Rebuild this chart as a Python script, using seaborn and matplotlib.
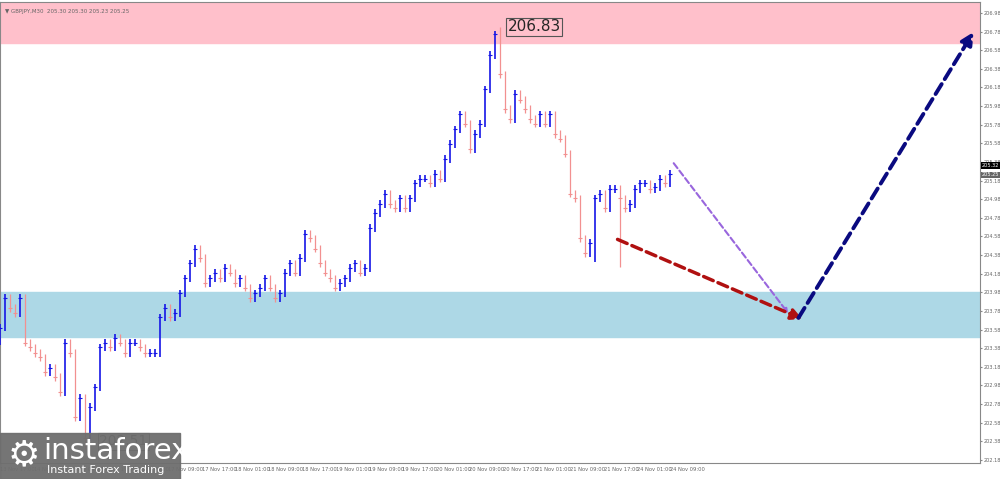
import numpy as np
import pandas as pd
import matplotlib
matplotlib.use("Agg")
import matplotlib.pyplot as plt
import seaborn as sns

closes = [203.60,203.92,203.81,203.76,203.92,203.44,203.39,203.33,203.28,203.12,203.17,203.07,202.91,203.44,203.33,202.64,
202.85,202.42,202.75,202.96,203.39,203.44,203.39,203.49,203.44,203.33,203.44,203.44,203.39,203.33,203.33,203.33,203.71,
203.81,203.71,203.76,203.97,204.13,204.29,204.45,204.35,204.08,204.13,204.19,204.13,204.24,204.19,204.08,204.13,204.03,
203.92,203.97,204.03,204.13,204.03,203.92,203.97,204.19,204.29,204.19,204.35,204.61,204.56,204.45,204.29,204.19,204.13,
204.03,204.08,204.13,204.24,204.29,204.19,204.24,204.67,204.83,204.93,205.04,204.93,204.88,204.99,204.88,204.99,205.15,
205.20,205.20,205.15,205.25,205.20,205.41,205.57,205.73,205.89,205.79,205.52,205.68,205.79,206.16,206.53,206.75,206.32,
205.95,205.84,206.11,206.05,205.95,205.84,205.79,205.89,205.79,205.89,205.68,205.63,205.47,205.04,204.99,204.56,204.40,
204.51,204.99,205.04,204.88,205.09,205.09,204.99,204.88,204.93,205.09,205.15,205.15,205.09,205.11,205.20,205.15,205.25]
first_open = 203.45
extra_high = {100: 206.83, 17: 202.30, 119: 204.30, 124: 204.25}
time_labels = ["13 Nov 17:00","14 Nov 01:00","14 Nov 09:00","14 Nov 17:00","17 Nov 01:00","17 Nov 09:00","17 Nov 17:00",
"18 Nov 01:00","18 Nov 09:00","18 Nov 17:00","19 Nov 01:00","19 Nov 09:00","19 Nov 17:00","20 Nov 01:00","20 Nov 09:00",
"20 Nov 17:00","21 Nov 01:00","21 Nov 09:00","21 Nov 17:00","24 Nov 01:00","24 Nov 09:00"]
price_ticks = [round(202.18 + 0.2*i, 2) for i in range(25)]
resist_zone = (206.66, 207.2)
support_zone = (203.50, 203.98)

sns.set_style("white")
plt.rcParams['font.family'] = ['DejaVu Sans']
fig = plt.figure(figsize=(10, 4.79), dpi=100)
ax = fig.add_axes([0.0, 0.033, 0.98, 0.963])
ax.set_xlim(0, 196)
ax.set_ylim(202.145, 207.098)

ax.axhspan(*resist_zone, color="#ffc0cb", zorder=0)
ax.axhspan(*support_zone, color="#add8e6", zorder=0)

opens = [first_open] + closes[:-1]
df = pd.DataFrame({"i": np.arange(len(closes)), "o": opens, "c": closes})
df["h"] = df[["o", "c"]].max(axis=1) + 0.04
df["l"] = df[["o", "c"]].min(axis=1) - 0.04
for k, v in extra_high.items():
    if v > df.loc[k, "h"]:
        df.loc[k, "h"] = v
    else:
        df.loc[k, "l"] = v
df["up"] = df["c"] >= df["o"]
for up, col, lw in [(True, "#1515e6", 1.2), (False, "#f29090", 0.9)]:
    d = df[df["up"] == up]
    ax.vlines(d["i"], d["l"], d["h"], color=col, lw=lw, zorder=3)
sns.scatterplot(data=df, x="i", y="c", hue="up", palette={True: "#1515e6", False: "#f29090"},
                marker="_", s=6, linewidth=0.8, legend=False, ax=ax, zorder=4)

def arrow(x0, y0, x1, y1, col, lw, ms):
    ax.annotate("", xy=(x1, y1), xytext=(x0, y0),
                arrowprops=dict(arrowstyle="-|>", color=col, lw=lw, ls=(0, (3, 1.5)), mutation_scale=ms), zorder=6)

arrow(134.4, 205.39, 158, 203.73, "#9966dd", 1.5, 6)
arrow(123, 204.56, 161, 203.68, "#b01010", 2.5, 16)
arrow(159.4, 203.68, 195, 206.80, "#0a0a80", 2.8, 18)

ax.text(101.5, 206.83, "206.83", fontsize=11, va="center", ha="left",
        bbox=dict(boxstyle="square,pad=0.1", fc="none", ec="#555555", lw=0.8), zorder=7)
ax.text(1, 207.0, "▼ GBPJPY,M30  205.30 205.30 205.23 205.25", fontsize=4, color="#666666", va="center")
ax.text(19.8, 202.38, "202.51", fontsize=10, va="center", ha="left", color="#333333",
        bbox=dict(boxstyle="square,pad=0.1", fc="none", ec="#555555", lw=0.8), zorder=7)

ax.yaxis.tick_right()
ax.set_yticks(price_ticks)
ax.set_yticklabels([f"{t:.2f}" for t in price_ticks], fontsize=3.6, color="#666666")
ax.tick_params(axis="y", length=1.5, pad=1, colors="#888888", labelcolor="#666666")
ax.tick_params(axis="x", length=2, pad=1, colors="#888888", labelcolor="#666666")
xt = [0.1 + 6.7*k for k in range(len(time_labels))]
ax.set_xticks(xt)
ax.set_xticklabels(time_labels, fontsize=3.7, ha="left")
for s in ax.spines.values():
    s.set_color("#888888"); s.set_linewidth(0.8)
ax.set_xlabel(""); ax.set_ylabel("")

for val, txt, fc in [(205.34, "205.32", "black"), (205.24, "205.25", "#666666")]:
    ax.text(1.002, val, txt, transform=ax.get_yaxis_transform(),
            fontsize=3.6, color="white", va="center", ha="left",
            bbox=dict(boxstyle="square,pad=0.15", fc=fc, ec="none"), zorder=8)

fig.patches.append(matplotlib.patches.Rectangle((0, 0), 0.18, 0.096, transform=fig.transFigure,
                   color="#6e6e6e", alpha=0.95, zorder=10))
fig.text(0.043, 0.058, "instaforex", fontsize=21, color="white", va="center", zorder=11)
fig.text(0.047, 0.018, "Instant Forex Trading", fontsize=8, color="white", va="center", zorder=11)
fig.text(0.024, 0.05, "⚙", fontsize=26, color="white", va="center", ha="center", zorder=11)
fig.savefig("out.png", dpi=100)
